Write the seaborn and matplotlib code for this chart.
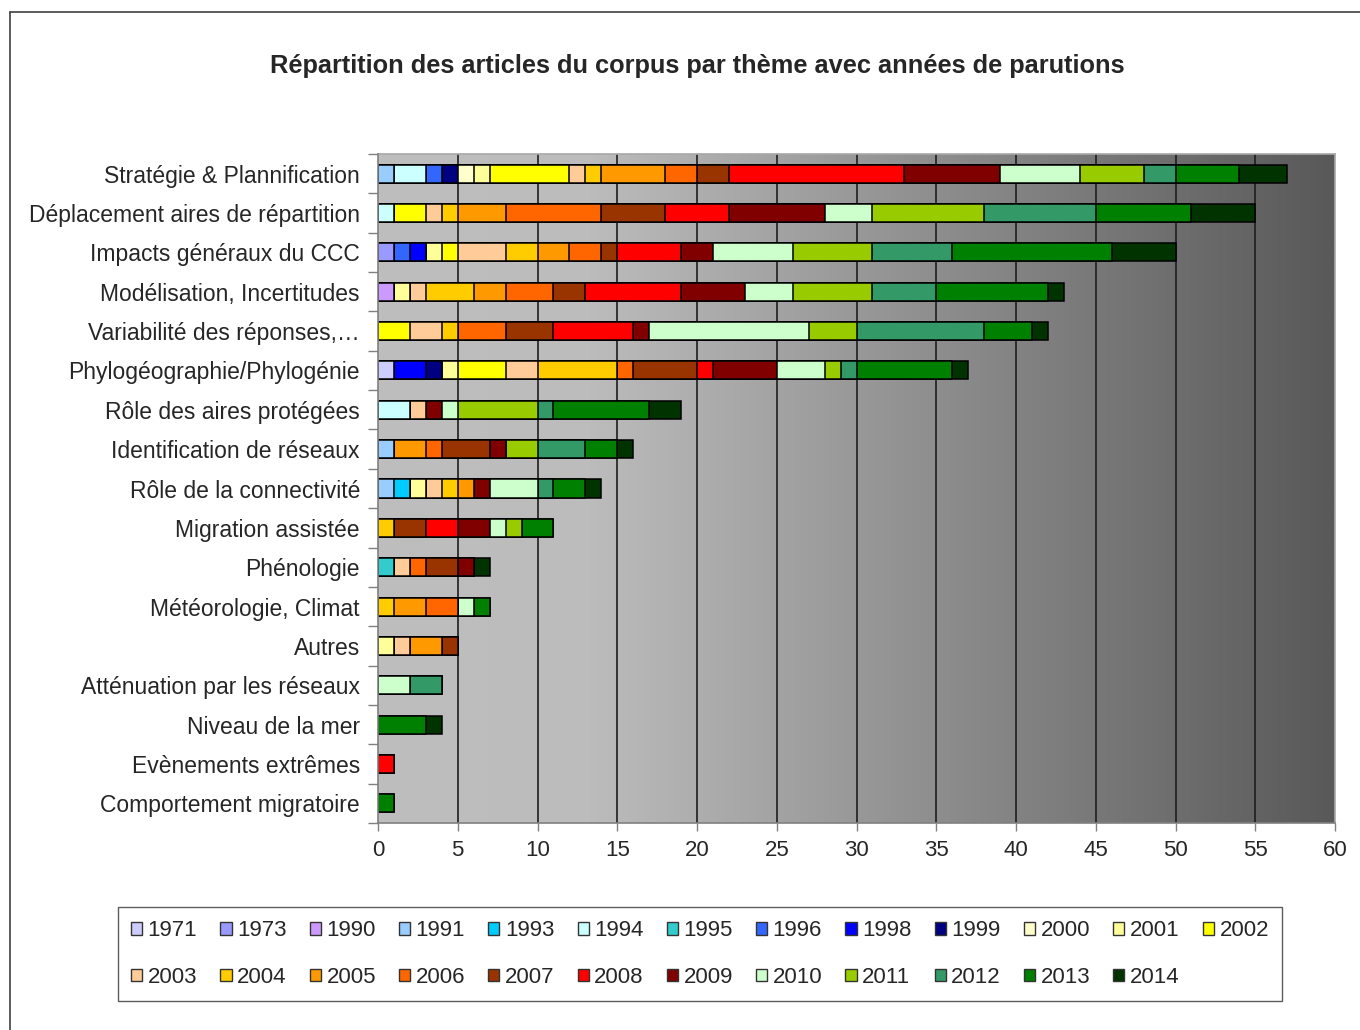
import numpy as np
import pandas as pd
import matplotlib.pyplot as plt
import seaborn as sns
from matplotlib.colors import LinearSegmentedColormap
from matplotlib.patches import Patch
from matplotlib.lines import Line2D

# ------------------------------------------------------------
# Data: number of corpus articles per theme and publication year
# ------------------------------------------------------------
title = "Répartition des articles du corpus par thème avec années de parutions"

themes = [
    "Stratégie & Plannification",
    "Déplacement aires de répartition",
    "Impacts généraux du CCC",
    "Modélisation, Incertitudes",
    "Variabilité des réponses,…",
    "Phylogéographie/Phylogénie",
    "Rôle des aires protégées",
    "Identification de réseaux",
    "Rôle de la connectivité",
    "Migration assistée",
    "Phénologie",
    "Météorologie, Climat",
    "Autres",
    "Atténuation par les réseaux",
    "Niveau de la mer",
    "Evènements extrêmes",
    "Comportement migratoire",
]

years = [1971, 1973, 1990, 1991, 1993, 1994, 1995, 1996, 1998, 1999, 2000, 2001, 2002,
         2003, 2004, 2005, 2006, 2007, 2008, 2009, 2010, 2011, 2012, 2013, 2014]

year_colors = ['#CCCCFF', '#9999FF', '#CC99FF', '#99CCFF', '#00CCFF', '#CCFFFF', '#33CCCC',
               '#3366FF', '#0000FF', '#000080', '#FFFFCC', '#FFFF99', '#FFFF00', '#FFCC99',
               '#FFCC00', '#FF9900', '#FF6600', '#993300', '#FF0000', '#800000', '#CCFFCC',
               '#99CC00', '#339966', '#008000', '#003300']

# one dict per theme: {year: count}, same order as `themes`
counts = [
    {1991: 1, 1994: 2, 1996: 1, 1999: 1, 2000: 1, 2001: 1, 2002: 5, 2003: 1, 2004: 1, 2005: 4,
     2006: 2, 2007: 2, 2008: 11, 2009: 6, 2010: 5, 2011: 4, 2012: 2, 2013: 4, 2014: 3},
    {1994: 1, 2002: 2, 2003: 1, 2004: 1, 2005: 3, 2006: 6, 2007: 4, 2008: 4, 2009: 6,
     2010: 3, 2011: 7, 2012: 7, 2013: 6, 2014: 4},
    {1973: 1, 1996: 1, 1998: 1, 2001: 1, 2002: 1, 2003: 3, 2004: 2, 2005: 2, 2006: 2, 2007: 1,
     2008: 4, 2009: 2, 2010: 5, 2011: 5, 2012: 5, 2013: 10, 2014: 4},
    {1990: 1, 2001: 1, 2003: 1, 2004: 3, 2005: 2, 2006: 3, 2007: 2, 2008: 6, 2009: 4,
     2010: 3, 2011: 5, 2012: 4, 2013: 7, 2014: 1},
    {2002: 2, 2003: 2, 2004: 1, 2006: 3, 2007: 3, 2008: 5, 2009: 1, 2010: 10, 2011: 3,
     2012: 8, 2013: 3, 2014: 1},
    {1971: 1, 1998: 2, 1999: 1, 2001: 1, 2002: 3, 2003: 2, 2004: 5, 2006: 1, 2007: 4,
     2008: 1, 2009: 4, 2010: 3, 2011: 1, 2012: 1, 2013: 6, 2014: 1},
    {1994: 2, 2003: 1, 2009: 1, 2010: 1, 2011: 5, 2012: 1, 2013: 6, 2014: 2},
    {1991: 1, 2005: 2, 2006: 1, 2007: 3, 2009: 1, 2011: 2, 2012: 3, 2013: 2, 2014: 1},
    {1991: 1, 1993: 1, 2001: 1, 2003: 1, 2004: 1, 2005: 1, 2009: 1, 2010: 3, 2012: 1,
     2013: 2, 2014: 1},
    {2004: 1, 2007: 2, 2008: 2, 2009: 2, 2010: 1, 2011: 1, 2013: 2},
    {1995: 1, 2003: 1, 2006: 1, 2007: 2, 2009: 1, 2014: 1},
    {2004: 1, 2005: 2, 2006: 2, 2010: 1, 2013: 1},
    {2001: 1, 2003: 1, 2005: 2, 2007: 1},
    {2010: 2, 2012: 2},
    {2013: 3, 2014: 1},
    {2008: 1},
    {2013: 1},
]

# ------------------------------------------------------------
# Table: theme x year, cumulated along the years for stacking
# ------------------------------------------------------------
table = pd.DataFrame(counts, index=themes).reindex(columns=years).fillna(0)
cumul = table.cumsum(axis=1)

# ------------------------------------------------------------
# Figure
# ------------------------------------------------------------
sns.set_style('white')
plt.rcParams['font.family'] = ['Liberation Sans', 'DejaVu Sans']

fig = plt.figure(figsize=(13.6, 10.3), dpi=100)
ax = fig.add_axes([378 / 1360, 1 - 823 / 1030, (1335 - 378) / 1360, (823 - 154) / 1030])

# grey gradient background of the plot area
grad_cmap = LinearSegmentedColormap.from_list(
    'bg', [(0.0, '#BEBEBE'), (0.22, '#BCBCBC'), (1.0, '#595959')])
ax.imshow(np.linspace(0, 1, 400)[None, :], cmap=grad_cmap, aspect='auto',
          extent=(0, 60, len(themes) - 0.5, -0.5), zorder=0)

# vertical grid lines
for gx in range(5, 60, 5):
    ax.axvline(gx, color='#1e1e1e', linewidth=1.2, zorder=1)

# stacked bars: draw cumulative totals from the last year down to the first
for year, color in reversed(list(zip(years, year_colors))):
    sns.barplot(x=cumul[year].values, y=themes, order=themes, orient='y', ax=ax,
                color=color, saturation=1, width=0.46, errorbar=None,
                edgecolor='black', linewidth=1.1, zorder=3)

ax.set_xlim(0, 60)
ax.set_ylim(len(themes) - 0.5, -0.5)
ax.set_xlabel('')
ax.set_ylabel('')

ax.set_xticks(range(0, 61, 5))
ax.tick_params(axis='x', which='major', length=6, width=1, color='#808080',
               labelsize=16, pad=6, bottom=True)
ax.tick_params(axis='y', which='major', length=0, labelsize=16.5, pad=13)
ax.set_yticks(np.arange(-0.5, len(themes), 1.0), minor=True)
ax.tick_params(axis='y', which='minor', length=7, width=1, color='#808080', left=True)

for side in ['left', 'bottom']:
    ax.spines[side].set_color('#808080')
    ax.spines[side].set_linewidth(1.2)
for side in ['top', 'right']:
    ax.spines[side].set_color('#A8A8A8')
    ax.spines[side].set_linewidth(1.2)
ax.spines['left'].set_zorder(4)

# title
fig.text(697 / 1360, 1 - 66 / 1030, title, ha='center', va='center',
         fontsize=18.3, fontweight='bold')

# outer chart frame (top and left edges visible)
fig.add_artist(Line2D([10 / 1360, 10 / 1360], [0, 1 - 12 / 1030],
                      transform=fig.transFigure, color='#404040', linewidth=1.2))
fig.add_artist(Line2D([10 / 1360, 1], [1 - 12 / 1030, 1 - 12 / 1030],
                      transform=fig.transFigure, color='#404040', linewidth=1.2))

# legend: 2 rows, filled row by row (matplotlib fills column by column)
handles = [Patch(facecolor=c, edgecolor='#333333', linewidth=1) for c in year_colors]
labels = [str(y) for y in years]
ncol = 13
order = []
for j in range(ncol):
    order.append(j)
    if j + ncol < len(years):
        order.append(j + ncol)
leg = fig.legend([handles[i] for i in order], [labels[i] for i in order],
                 loc='center', bbox_to_anchor=(700 / 1360, 1 - 954 / 1030),
                 ncol=ncol, fontsize=16, frameon=True, fancybox=False,
                 handlelength=0.5, handleheight=0.5, handletextpad=0.25,
                 columnspacing=1.04, labelspacing=1.15, borderpad=0.6)
leg.get_frame().set_edgecolor('#333333')
leg.get_frame().set_linewidth(1.0)

plt.savefig('out.png', dpi=100)
